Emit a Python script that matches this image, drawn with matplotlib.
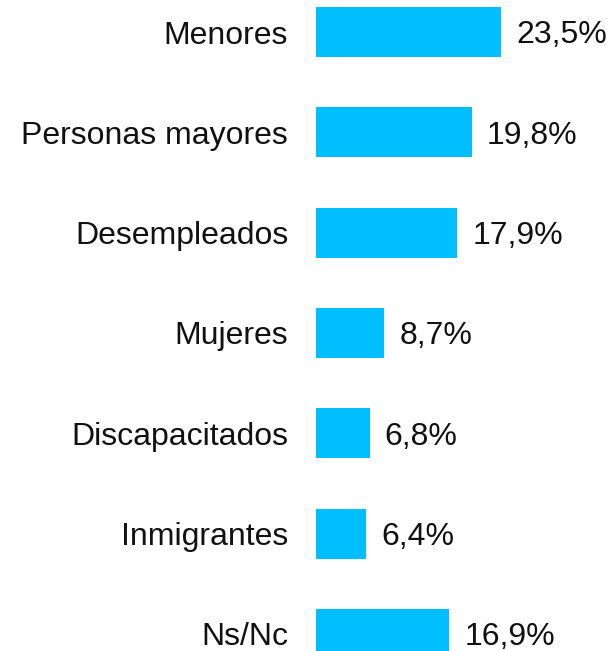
import matplotlib
matplotlib.use("Agg")
import matplotlib.pyplot as plt

categorias = ["Menores", "Personas mayores", "Desempleados", "Mujeres",
              "Discapacitados", "Inmigrantes", "Ns/Nc"]
valores = [23.5, 19.8, 17.9, 8.7, 6.8, 6.4, 16.9]
etiquetas = ["23,5%", "19,8%", "17,9%", "8,7%", "6,8%", "6,4%", "16,9%"]

plt.rcParams["font.family"] = ["Liberation Sans", "DejaVu Sans"]

fig = plt.figure(figsize=(6.09, 6.51), dpi=100)
ax = fig.add_axes([316/609, 0, 1 - 316/609, 1])

pos = list(range(len(categorias)))
barras = ax.barh(pos, valores, height=0.5, color="#00BEFF", clip_on=False)

for p, v, t in zip(pos, valores, etiquetas):
    ax.annotate(t, (v, p), xytext=(11, -2.5), textcoords="offset points",
                va="center", ha="left", fontsize=23, color="#111111")

ax.set_xlim(0, 293/7.87)
ax.set_ylim(6.17, -0.319)
ax.set_yticks(pos)
ax.set_yticklabels(categorias, fontsize=23, color="#111111")
ax.tick_params(axis="y", length=0, pad=20)
ax.set_xticks([])
for s in ax.spines.values():
    s.set_visible(False)

fig.savefig("out.png", dpi=100)
